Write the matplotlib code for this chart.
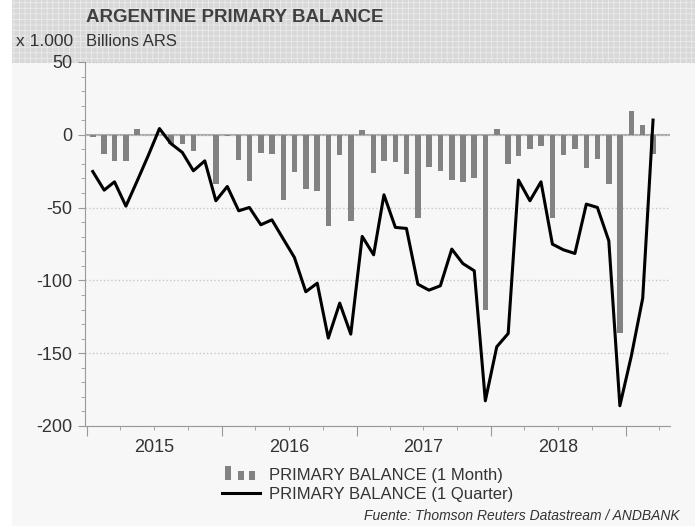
import matplotlib
matplotlib.use("Agg")
import matplotlib.pyplot as plt
import matplotlib.dates as mdates
from matplotlib.legend_handler import HandlerBase
from matplotlib.lines import Line2D
from matplotlib.patches import Rectangle
import numpy as np
import pandas as pd

plt.rcParams["font.family"] = ["Liberation Sans", "DejaVu Sans"]
plt.rcParams["hatch.linewidth"] = 0.6
plt.rcParams["axes.unicode_minus"] = False

# Data (billions ARS), monthly from Jan 2015
months = pd.date_range("2015-01-01", periods=51, freq="MS")
month_bal = [-1.5, -13.5, -17.9, -18.3, 3.7, 0.0, 0.0, -6.6, -6.5, -11.1,
             0.0, -34.1, -0.6, -17.2, -31.8, -12.6, -13.5, -45.0, -25.6, -37.1,
             -38.7, -62.7, -14.2, -59.0, 3.2, -26.4, -18.3, -18.8, -27.2, -57.2,
             -22.2, -24.7, -31.3, -32.7, -29.5, -120.4, 3.7, -20.1, -14.6, -10.0,
             -7.6, -56.8, -14.2, -10.0, -22.7, -16.7, -33.7, -135.8, 16.2, 6.9,
             -13.3]
quarter_bal = [-25.2, -38.0, -32.3, -49.0, -32.0, -14.0, 4.3, -6.0, -12.1, -24.7,
               -17.9, -45.3, -35.5, -52.2, -49.9, -61.8, -58.4, -71.6, -84.2, -107.8,
               -101.9, -139.6, -115.6, -136.9, -69.8, -82.4, -41.2, -63.6, -64.3, -102.6,
               -106.7, -103.7, -78.5, -88.4, -93.4, -182.7, -145.6, -136.5, -31.1, -45.3,
               -32.3, -75.1, -79.0, -81.5, -47.6, -49.9, -72.8, -186.1, -152.0, -112.2,
               10.1]
labels = ["PRIMARY BALANCE (1 Month)", "PRIMARY BALANCE (1 Quarter)"]

BG = "#f7f7f7"
BAR = "#828282"
TXT = "#333333"


class BarsHandler(HandlerBase):
    # three little bars like the original legend key
    def create_artists(self, legend, orig_handle, xdescent, ydescent,
                       width, height, fontsize, trans):
        out = []
        for x0, hf in [(0.08, 1.2), (0.42, 0.75), (0.71, 0.75)]:
            r = Rectangle((-xdescent + width * x0, -ydescent), width * 0.15,
                          height * hf, facecolor=BAR, edgecolor="none",
                          transform=trans)
            out.append(r)
        return out


fig = plt.figure(figsize=(6.95, 5.26), dpi=100, facecolor=BG)

# white strip on the left + textured header band (behind the axes)
fig.patches.append(Rectangle((0, 0), 12 / 695, 1, transform=fig.transFigure,
                             facecolor="white", edgecolor="none", zorder=-2))
fig.patches.append(Rectangle((12 / 695, 1 - 63 / 526), 1, 63 / 526,
                             transform=fig.transFigure, facecolor="#d8d8d8",
                             edgecolor="#ebebeb", hatch="+++", lw=0, zorder=-2))

ax = fig.add_axes([85 / 695, 100 / 526, 585 / 695, 364 / 526])
ax.set_facecolor("none")

xc = months + pd.Timedelta(days=15)
ax.bar(xc, month_bal, width=15, color=BAR, zorder=2)
ax.plot(xc, quarter_bal, color="black", lw=2.2, zorder=3)
ax.axhline(0, color="#aaaaaa", lw=1.5, zorder=1)

ax.set_ylim(-200, 50)
ax.set_xlim(pd.Timestamp("2014-12-26"), pd.Timestamp("2019-05-01"))
ax.set_yticks([-200, -150, -100, -50, 0, 50])
ax.set_yticks(np.arange(-200, 51, 10), minor=True)
ax.yaxis.grid(True, linestyle=":", color="#c8c8c8", lw=1, zorder=0)

ax.xaxis.set_major_locator(mdates.YearLocator())
ax.xaxis.set_major_formatter(plt.NullFormatter())
ax.xaxis.set_minor_locator(mdates.MonthLocator(bymonth=[4, 7, 10]))
ax.xaxis.set_minor_formatter(plt.FuncFormatter(
    lambda v, p: str(mdates.num2date(v).year) if mdates.num2date(v).month == 7 else ""))

for s in ["top", "right"]:
    ax.spines[s].set_visible(False)
for s in ["left", "bottom"]:
    ax.spines[s].set_color("#999999")

ax.tick_params(axis="y", which="major", length=5, color="#999999", labelsize=13,
               labelcolor=TXT, pad=4)
ax.tick_params(axis="y", which="minor", length=3, color="#999999")
ax.tick_params(axis="x", which="major", length=7, color="#999999")
ax.tick_params(axis="x", which="minor", length=3, color="#999999", labelsize=13,
               labelcolor=TXT, pad=6)

fig.text(86 / 695, 1 - 17 / 526, "ARGENTINE PRIMARY BALANCE", fontsize=13.5,
         fontweight="bold", color="#404040", va="center", ha="left")
fig.text(73 / 695, 1 - 42 / 526, "x 1.000", fontsize=12.5, color=TXT,
         va="center", ha="right")
fig.text(86 / 695, 1 - 42 / 526, "Billions ARS", fontsize=12, color=TXT, va="center")
fig.text(680 / 695, 1 - 516 / 526, "Fuente: Thomson Reuters Datastream / ANDBANK",
         fontsize=10, style="italic", color=TXT, ha="right", va="center")

h_bar = Rectangle((0, 0), 1, 1, color=BAR)
h_line = Line2D([], [], color="black", lw=2.2)
fig.legend([h_bar, h_line], labels, loc="upper left",
           bbox_to_anchor=(222 / 695, 1 - 468 / 526), frameon=False,
           fontsize=12, borderpad=0, borderaxespad=0, handlelength=2.3,
           handletextpad=0.5, labelspacing=0.25, labelcolor=TXT,
           handler_map={Rectangle: BarsHandler()})

fig.savefig("out.png", dpi=100, facecolor=BG)
